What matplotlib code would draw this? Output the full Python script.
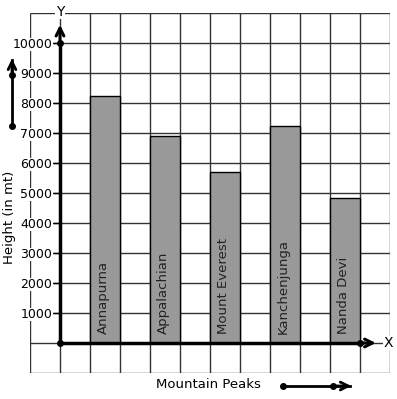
import matplotlib.pyplot as plt
from matplotlib.patches import FancyArrowPatch
from matplotlib.lines import Line2D

# --- Data ---
peaks = ["Annapurna", "Appalachian", "Mount Everest", "Kanchenjunga", "Nanda Devi"]
heights = [8250, 6900, 5700, 7250, 4850]
bar_pos = [1.5, 3.5, 5.5, 7.5, 9.5]
y_ticks = [1000, 2000, 3000, 4000, 5000, 6000, 7000, 8000, 9000, 10000]

W, H = 397, 399
fig = plt.figure(figsize=(W / 100, H / 100), dpi=100)
ax = fig.add_axes([30 / W, 1 - 373 / H, 360 / W, 360 / H])
ax.set_xlim(-1, 11)
ax.set_ylim(-1000, 11000)

# square grid (under the bars)
ax.vlines(range(-1, 12), -1000, 11000, color="#333333", lw=1, zorder=0)
ax.hlines(range(-1000, 11001, 1000), -1, 11, color="#333333", lw=1, zorder=0)

ax.bar(bar_pos, heights, width=1, color="#999999", edgecolor="black",
       linewidth=1, zorder=3)
for x, name in zip(bar_pos, peaks):
    ax.text(x - 0.05, 300, name, rotation=90, ha="center", va="bottom",
            fontsize=9.5, color="#222222", zorder=4)

# axes through the origin
for s in ["top", "right"]:
    ax.spines[s].set_visible(False)
ax.spines["left"].set_position(("data", 0))
ax.spines["bottom"].set_position(("data", 0))
ax.spines["left"].set_bounds(0, 10000)
ax.spines["bottom"].set_bounds(0, 10)
ax.spines["left"].set_linewidth(2.5)
ax.spines["bottom"].set_linewidth(2.5)
ax.spines["left"].set_zorder(5)
ax.spines["bottom"].set_zorder(5)
ax.set_xticks([])
ax.set_yticks(y_ticks)
ax.tick_params(axis="y", direction="out", length=5, width=1, pad=0.5, labelsize=9)
for lab in ax.get_yticklabels():
    lab.set_bbox(dict(facecolor="white", edgecolor="none", pad=0.3))

arrow = dict(arrowstyle="->", lw=2.2, color="black", mutation_scale=14)
ax.annotate("", xy=(0, 10700), xytext=(0, 9990), arrowprops=arrow, zorder=5)
ax.annotate("", xy=(10.62, 0), xytext=(9.99, 0), arrowprops=arrow, zorder=5)
ax.plot([0, 0, 10], [0, 10000, 0], "o", color="black", ms=4, zorder=6)

ax.text(0, 11050, "Y", ha="center", va="center", fontsize=10,
        bbox=dict(facecolor="white", edgecolor="none", pad=0.5))
ax.text(10.93, 0, "X", ha="center", va="center", fontsize=10,
        bbox=dict(facecolor="white", edgecolor="none", pad=0.3))

# labels
fig.text(10 / W, 1 - 217 / H, "Height (in mt)", rotation=90, ha="center",
         va="center", fontsize=9.5)
fig.text(208 / W, 1 - 385 / H, "Mountain Peaks", ha="center", va="center",
         fontsize=9.5)


# decorative direction arrows
def px(x, y):
    return (x / W, 1 - y / H)


fig_arrow = dict(arrowstyle="->", lw=2, color="black", mutation_scale=14)

fig.add_artist(Line2D([12 / W, 12 / W], [1 - 126 / H, 1 - 60 / H], lw=2, color="black"))
fig.add_artist(FancyArrowPatch(px(12, 80), px(12, 56), transform=fig.transFigure, **fig_arrow))
fig.add_artist(Line2D([12 / W, 12 / W], [1 - 126 / H, 1 - 75 / H], ls="none",
                      marker="o", ms=4, color="black"))

fig.add_artist(Line2D([283 / W, 350 / W], [1 - 386 / H, 1 - 386 / H], lw=2, color="black"))
fig.add_artist(FancyArrowPatch(px(330, 386), px(354, 386), transform=fig.transFigure, **fig_arrow))
fig.add_artist(Line2D([283 / W, 333 / W], [1 - 386 / H, 1 - 386 / H], ls="none",
                      marker="o", ms=4, color="black"))

fig.savefig("out.png", dpi=100, facecolor="white")
